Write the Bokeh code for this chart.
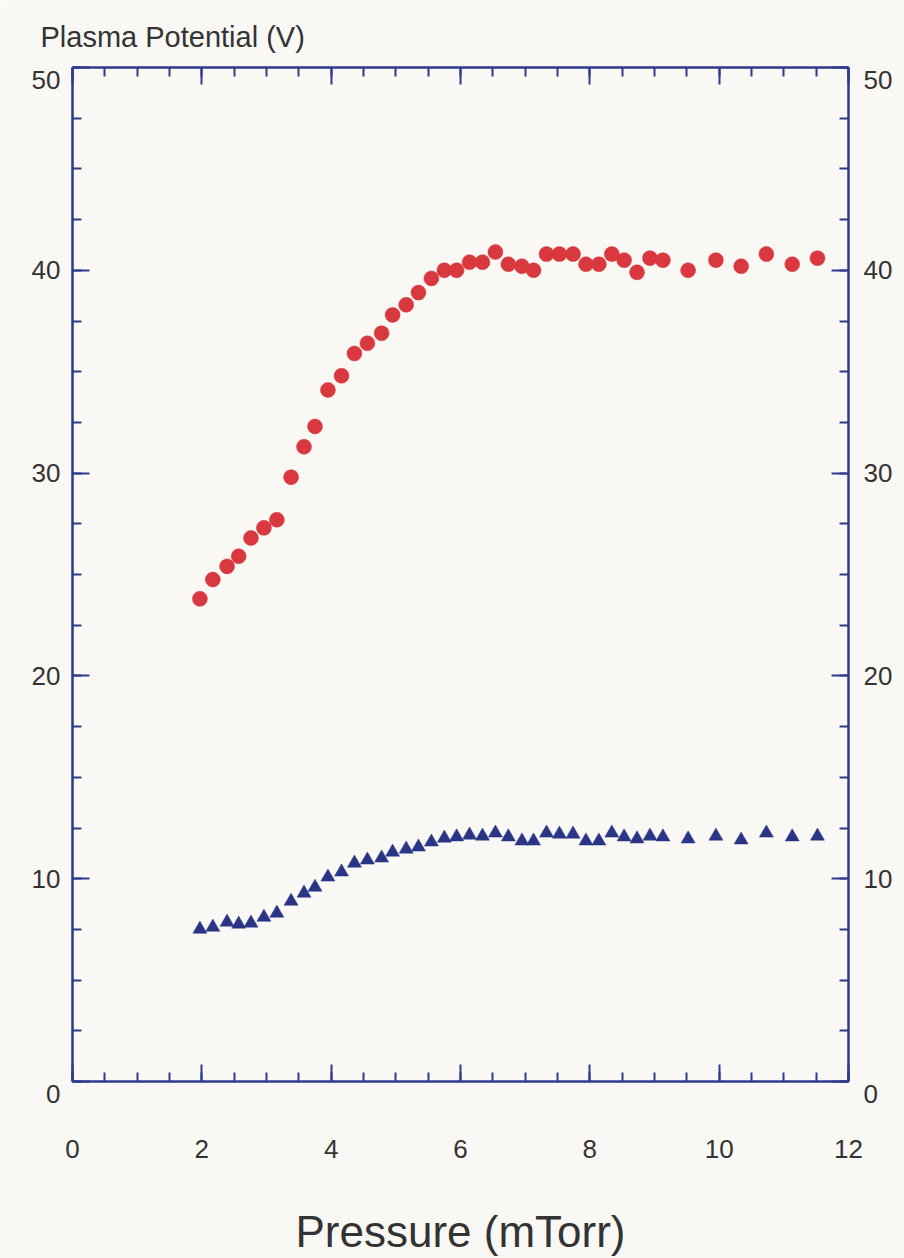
from bokeh.plotting import figure
from bokeh.models import Range1d, LinearAxis, SingleIntervalTicker, CustomJSTickFormatter
from bokeh.embed import file_html
from bokeh.resources import INLINE

# Pressure (mTorr) - shared by both series
pressure = [1.97, 2.17, 2.39, 2.57, 2.76, 2.96, 3.16, 3.38, 3.58, 3.75, 3.95,
            4.16, 4.36, 4.56, 4.78, 4.95, 5.16, 5.35, 5.55, 5.75, 5.94, 6.14,
            6.34, 6.54, 6.74, 6.95, 7.13, 7.33, 7.53, 7.74, 7.94, 8.14, 8.34,
            8.53, 8.73, 8.93, 9.13, 9.52, 9.95, 10.34, 10.73, 11.13, 11.52]

# Plasma potential (V), red circles
potential_red = [23.8, 24.75, 25.4, 25.9, 26.8, 27.3, 27.7, 29.8, 31.3, 32.3, 34.1,
                 34.8, 35.9, 36.4, 36.9, 37.8, 38.3, 38.9, 39.6, 40.0, 40.0, 40.4,
                 40.4, 40.9, 40.3, 40.2, 40.0, 40.8, 40.8, 40.8, 40.3, 40.3, 40.8,
                 40.5, 39.9, 40.6, 40.5, 40.0, 40.5, 40.2, 40.8, 40.3, 40.6]

# Plasma potential (V), blue triangles
potential_blue = [7.51, 7.61, 7.86, 7.76, 7.81, 8.10, 8.30, 8.89, 9.29, 9.58, 10.08,
                  10.33, 10.77, 10.92, 11.02, 11.31, 11.46, 11.56, 11.81, 12.0, 12.06, 12.15,
                  12.1, 12.25, 12.06, 11.86, 11.86, 12.25, 12.2, 12.2, 11.86, 11.86, 12.25,
                  12.06, 11.96, 12.1, 12.06, 11.96, 12.1, 11.91, 12.25, 12.06, 12.1]

# y-axis end labels sit a little below their ticks in the original
y_end_labels = {0: "\n0", 50: "\n50"}

AXIS_COLOR = "#2e3a8c"
TEXT_COLOR = "#333333"
BG = "#faf8f5"
FONT = "Liberation Sans"
TICK_FS = "26px"

p = figure(width=904, height=1258, output_backend="svg", toolbar_location=None,
           x_range=Range1d(0, 12), y_range=Range1d(0, 50),
           x_axis_location=None, y_axis_location=None,
           min_border_left=72, min_border_right=56, min_border_top=67, min_border_bottom=177,
           background_fill_color=BG, border_fill_color=BG, outline_line_color=None)
p.grid.visible = False

p.title.text = "Plasma Potential (V)"
p.title.align = "left"
p.title.offset = -32
p.title.standoff = 30
p.title.text_font = FONT
p.title.text_font_size = "29px"
p.title.text_font_style = "normal"
p.title.text_color = TEXT_COLOR

def style(ax):
    ax.axis_line_color = AXIS_COLOR
    ax.axis_line_width = 2.5
    ax.major_tick_line_color = AXIS_COLOR
    ax.minor_tick_line_color = AXIS_COLOR
    ax.major_tick_line_width = 2
    ax.minor_tick_line_width = 2
    ax.major_tick_in = 17
    ax.major_tick_out = 0
    ax.minor_tick_in = 9
    ax.minor_tick_out = 0
    ax.major_label_text_font = FONT
    ax.major_label_text_font_size = TICK_FS
    ax.major_label_text_color = TEXT_COLOR
    ax.axis_label_text_font = FONT
    ax.axis_label_text_color = TEXT_COLOR
    ax.axis_label_text_font_style = "normal"

bottom = LinearAxis(ticker=SingleIntervalTicker(interval=2, num_minor_ticks=4))
style(bottom)
bottom.major_label_standoff = 58
bottom.axis_label = "Pressure (mTorr)"
bottom.axis_label_text_font_size = "44px"
bottom.axis_label_standoff = 46
p.add_layout(bottom, "below")

top = LinearAxis(ticker=SingleIntervalTicker(interval=2, num_minor_ticks=4),
                 formatter=CustomJSTickFormatter(code="return ''"))
style(top)
top.major_label_standoff = 0
p.add_layout(top, "above")

for side, standoff in (("left", 12), ("right", 15)):
    ax = LinearAxis(ticker=SingleIntervalTicker(interval=10, num_minor_ticks=4),
                    major_label_overrides=y_end_labels)
    style(ax)
    ax.major_label_standoff = standoff
    ax.major_label_text_line_height = 0.8
    p.add_layout(ax, side)

p.scatter(pressure, potential_red, marker="circle", size=15,
          fill_color="#d8383e", line_color="#d8383e", line_alpha=0.5)
p.scatter(pressure, potential_blue, marker="triangle", size=14,
          fill_color="#2a3585", line_color="#2a3585", line_alpha=0.5)

open("out.html", "w").write(file_html(p, INLINE))
